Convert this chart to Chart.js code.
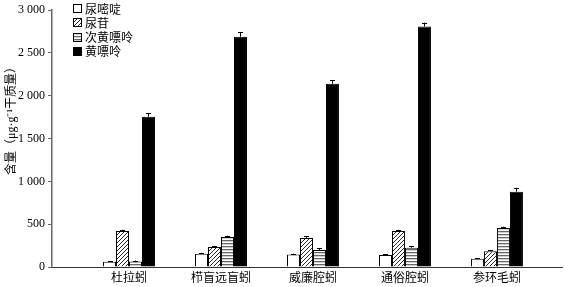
<!DOCTYPE html>
<html><head><meta charset="utf-8">
<script src="https://cdn.jsdelivr.net/npm/chart.js@4"></script>
<style>html,body{margin:0;padding:0;background:#fff}#wrap{width:565px;height:287px}</style>
</head><body><div id="wrap"><canvas id="c" width="565" height="287"></canvas></div>
<script>
const categories = ['杜拉蚓','栉盲远盲蚓','威廉腔蚓','通俗腔蚓','参环毛蚓'];
const seriesNames = ['尿嘧啶','尿苷','次黄嘌呤','黄嘌呤'];
const uracil = [60,155,147,140,95];
const uridine = [420,235,340,420,185];
const hypoxanthine = [65,350,200,225,455];
const xanthine = [1755,2690,2140,2810,880];
const uracilErr = [10,10,10,10,10];
const uridineErr = [15,12,18,15,10];
const hypoxanthineErr = [10,15,18,15,15];
const xanthineErr = [45,50,45,45,45];
const yTicks = [0,500,1000,1500,2000,2500,3000];
const yAxisTitle = '含量（μg·g⁻¹干质量）';

function makePattern(kind){
  const c = document.createElement('canvas');
  const g = c.getContext('2d');
  if(kind==='diag'){
    c.width=4;c.height=4;
    g.fillStyle='#fff';g.fillRect(0,0,4,4);
    g.strokeStyle='#111';g.lineWidth=0.9;
    g.beginPath();
    g.moveTo(-1,5);g.lineTo(5,-1);
    g.moveTo(-1,1);g.lineTo(1,-1);
    g.moveTo(3,5);g.lineTo(5,3);
    g.stroke();
  } else {
    c.width=4;c.height=3;
    g.fillStyle='#fff';g.fillRect(0,0,4,3);
    g.fillStyle='#666';g.fillRect(0,0,4,1.3);
  }
  return g.createPattern(c,'repeat');
}
const fills = ['#ffffff', makePattern('diag'), makePattern('horiz'), '#000000'];
const values = [uracil, uridine, hypoxanthine, xanthine];
const errs = [uracilErr, uridineErr, hypoxanthineErr, xanthineErr];

const datasets = seriesNames.map((name,k)=>({
  label:name,
  data: values[k].map((v,i)=>({x:i+1,y:v})),
  errors: errs[k],
  backgroundColor: fills[k],
  borderColor:'#000',
  borderWidth:1,
  borderSkipped:'bottom',
  categoryPercentage:0.565,
  barPercentage:1.0
}));

const fmt = v => v>=1000 ? Math.floor(v/1000)+' '+String(v%1000).padStart(3,'0') : String(v);

const errorBars = {
  id:'errorBars',
  afterDatasetsDraw(chart){
    const ctx=chart.ctx, ys=chart.scales.y;
    ctx.save();
    ctx.strokeStyle='#000';ctx.lineWidth=1;
    chart.data.datasets.forEach((ds,di)=>{
      const meta=chart.getDatasetMeta(di);
      meta.data.forEach((bar,i)=>{
        const v=ds.data[i].y, e=ds.errors[i];
        const y0=ys.getPixelForValue(v), y1=ys.getPixelForValue(v+e);
        const x=Math.round(bar.x)+0.5;
        ctx.beginPath();
        ctx.moveTo(x,y0);ctx.lineTo(x,y1);
        ctx.moveTo(x-2.5,Math.round(y1)+0.5);ctx.lineTo(x+2.5,Math.round(y1)+0.5);
        ctx.stroke();
      });
    });
    ctx.restore();
  }
};

const customLegend = {
  id:'customLegend',
  afterDraw(chart){
    const ctx=chart.ctx;
    ctx.save();
    ctx.font='12px "Noto Sans CJK SC"';
    ctx.textBaseline='middle';
    chart.data.datasets.forEach((ds,i)=>{
      const cy = 8 + i*14.3;
      const bx = 73.5, by = Math.round(cy-4)+0.5;
      ctx.fillStyle=ds.backgroundColor;
      ctx.fillRect(bx,by,8,8);
      ctx.strokeStyle='#000';ctx.lineWidth=1;
      ctx.strokeRect(bx,by,8,8);
      ctx.fillStyle='#000';
      ctx.fillText(ds.label,85,cy+1);
    });
    ctx.restore();
  }
};

const yTitle = {
  id:'yTitle',
  afterDraw(chart){
    const ctx=chart.ctx;
    ctx.save();
    ctx.translate(12,118);
    ctx.rotate(-Math.PI/2);
    ctx.font='12px "Liberation Serif", "Noto Sans CJK SC"';
    ctx.textAlign='center';ctx.textBaseline='middle';
    ctx.fillStyle='#000';
    ctx.fillText(yAxisTitle,0,0);
    ctx.restore();
  }
};

new Chart(document.getElementById('c'),{
  type:'bar',
  data:{datasets},
  plugins:[errorBars, customLegend, yTitle],
  options:{
    responsive:false,
    devicePixelRatio:1,
    animation:false,
    layout:{padding:{top:8,right:3,left:0,bottom:0}},
    plugins:{legend:{display:false},tooltip:{enabled:false}},
    scales:{
      x:{
        type:'linear', min:0.163, max:5.707, offset:false,
        grid:{display:false, drawTicks:false},
        border:{display:true,color:'#333',width:1},
        ticks:{stepSize:1, includeBounds:false, autoSkip:false, maxRotation:0, minRotation:0,
          callback:v=>Number.isInteger(v)?(categories[v-1]||''):'',
          font:{family:'Noto Sans CJK SC',size:12}, color:'#000', padding:3},
        afterFit:s=>{s.height=20;}
      },
      y:{
        min:0,max:3000,
        afterBuildTicks:s=>{s.ticks=yTicks.map(v=>({value:v}));},
        ticks:{callback:v=>fmt(v), font:{family:'Liberation Serif',size:12}, color:'#000', padding:3},
        grid:{display:true, drawOnChartArea:false, drawTicks:true, tickLength:4, color:'#666'},
        border:{display:true,color:'#666',width:1.5},
        afterFit:s=>{s.width=52;}
      }
    }
  }
});
</script>
</body></html>
